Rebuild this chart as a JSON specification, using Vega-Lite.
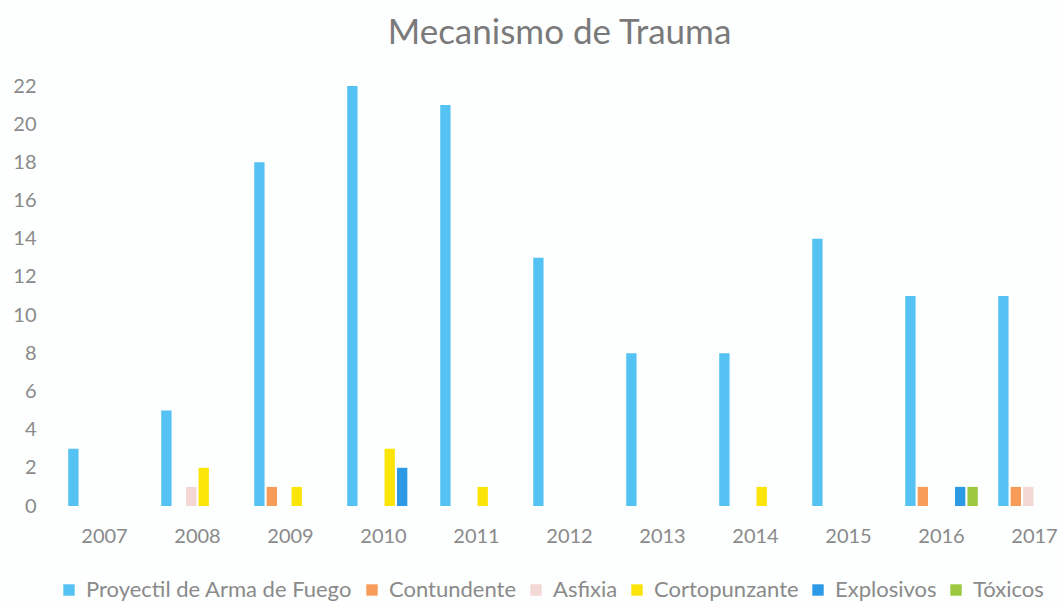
{
  "$schema": "https://vega.github.io/schema/vega-lite/v6.json",
  "autosize": {"type": "none"},
  "padding": {"left": 58, "top": 86, "right": 0, "bottom": 97},
  "width": 1003,
  "height": 420,
  "background": "#fdfefe",
  "title": {"text": "Mecanismo de Trauma", "fontSize": 35, "font": "Lato", "fontWeight": "normal", "color": "#7a7a7a", "offset": 25, "anchor": "middle"},
  "data": {"values": [
    {"year": "2007", "type": "Proyectil de Arma de Fuego", "n": 3},
    {"year": "2008", "type": "Proyectil de Arma de Fuego", "n": 5},
    {"year": "2008", "type": "Asfixia", "n": 1},
    {"year": "2008", "type": "Cortopunzante", "n": 2},
    {"year": "2009", "type": "Proyectil de Arma de Fuego", "n": 18},
    {"year": "2009", "type": "Contundente", "n": 1},
    {"year": "2009", "type": "Cortopunzante", "n": 1},
    {"year": "2010", "type": "Proyectil de Arma de Fuego", "n": 22},
    {"year": "2010", "type": "Cortopunzante", "n": 3},
    {"year": "2010", "type": "Explosivos", "n": 2},
    {"year": "2011", "type": "Proyectil de Arma de Fuego", "n": 21},
    {"year": "2011", "type": "Cortopunzante", "n": 1},
    {"year": "2012", "type": "Proyectil de Arma de Fuego", "n": 13},
    {"year": "2013", "type": "Proyectil de Arma de Fuego", "n": 8},
    {"year": "2014", "type": "Proyectil de Arma de Fuego", "n": 8},
    {"year": "2014", "type": "Cortopunzante", "n": 1},
    {"year": "2015", "type": "Proyectil de Arma de Fuego", "n": 14},
    {"year": "2016", "type": "Proyectil de Arma de Fuego", "n": 11},
    {"year": "2016", "type": "Contundente", "n": 1},
    {"year": "2016", "type": "Explosivos", "n": 1},
    {"year": "2016", "type": "Tóxicos", "n": 1},
    {"year": "2017", "type": "Proyectil de Arma de Fuego", "n": 11},
    {"year": "2017", "type": "Contundente", "n": 1},
    {"year": "2017", "type": "Asfixia", "n": 1}
  ]},
  "mark": {"type": "bar"},
  "encoding": {
    "x": {"field": "year", "type": "nominal",
      "scale": {"range": [0, 1023], "paddingInner": 0.22, "paddingOuter": 0.11},
      "axis": {"title": null, "labelAngle": 0, "domain": false, "ticks": false, "labelFontSize": 20, "labelFont": "Lato", "labelColor": "#8a8a8a", "labelPadding": 20}},
    "xOffset": {"field": "type", "type": "nominal",
      "scale": {"domain": ["Proyectil de Arma de Fuego", "Contundente", "Asfixia", "Cortopunzante", "Explosivos", "Tóxicos"], "paddingInner": 0.17}},
    "y": {"field": "n", "type": "quantitative",
      "scale": {"domain": [0, 22]},
      "axis": {"title": null, "values": [0,2,4,6,8,10,12,14,16,18,20,22], "grid": false, "domain": false, "ticks": false, "labelFontSize": 20, "labelFont": "Lato", "labelColor": "#8a8a8a", "labelPadding": 22}},
    "color": {"field": "type", "type": "nominal",
      "scale": {"domain": ["Proyectil de Arma de Fuego", "Contundente", "Asfixia", "Cortopunzante", "Explosivos", "Tóxicos"],
        "range": ["#55c2f4", "#f89c5a", "#f3d8d6", "#fbe407", "#2c9ae4", "#9bc83f"]},
      "legend": {"title": null, "orient": "bottom", "direction": "horizontal", "columns": 6, "symbolType": "square", "symbolSize": 130, "symbolStrokeWidth": 0, "labelFontSize": 22, "labelFont": "Lato", "labelColor": "#8a8a8a", "labelLimit": 400, "offset": 33, "columnPadding": 8, "labelOffset": 6}}
  },
  "config": {"view": {"stroke": null}}
}
